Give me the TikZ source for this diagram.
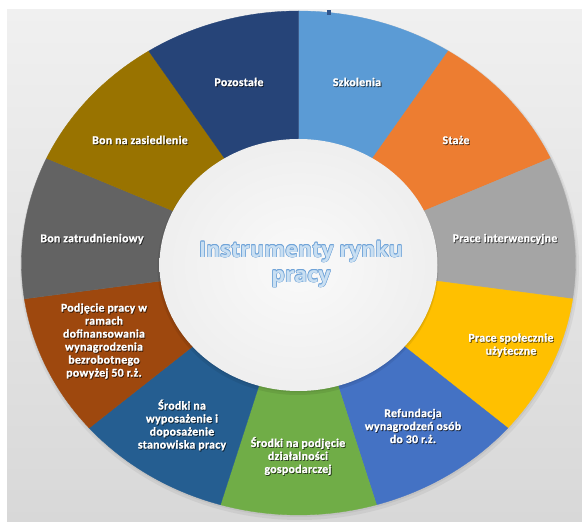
\documentclass[tikz,border=0pt]{standalone}
\usepackage{fontspec}
\setmainfont{Open Sans}
\newfontfamily\labfont{Carlito}[LetterSpace=2.5, BoldFeatures={FakeBold=1.2}]
\usetikzlibrary{calc}
\definecolor{cSzk}{HTML}{5B9BD5}
\definecolor{cSta}{HTML}{ED7D31}
\definecolor{cPin}{HTML}{A5A5A5}
\definecolor{cPsu}{HTML}{FFC000}
\definecolor{cRef}{HTML}{4472C4}
\definecolor{cSpd}{HTML}{70AD47}
\definecolor{cSwy}{HTML}{255E91}
\definecolor{cPod}{HTML}{9E480E}
\definecolor{cBzt}{HTML}{636363}
\definecolor{cBza}{HTML}{997300}
\definecolor{cPoz}{HTML}{264478}
\definecolor{bgTop}{HTML}{F0F0F0}
\definecolor{bgBot}{HTML}{D8D8D8}
\definecolor{titleFill}{HTML}{C9DFF2}
\definecolor{titleLine}{HTML}{6FA3D8}
\tikzset{
  seglabel/.style={text=white, font=\labfont\bfseries\fontsize{11.8}{13}\selectfont, align=center, inner sep=0pt},
  segshadow/.style={seglabel, text=black, opacity=0.6},
  titletext/.style={font=\bfseries\fontsize{21.5}{25}\selectfont, align=center, inner sep=0pt},
}
\newcommand\mylabel[3]{%
  \node[segshadow] (#1s) at ($(#2)+(0.8,-0.9)$) {#3};
  \node[seglabel] (#1) at (#2) {#3};
}
\begin{document}
\begin{tikzpicture}[x=1pt,y=1pt]
\useasboundingbox (0,0) rectangle (582,522);
\fill[white] (0,0) rectangle (582,522);
\shade[top color=bgTop, bottom color=bgBot] (7,0) rectangle (582,512);
% donut shadow
\fill[black, opacity=0.05] (299.5,256.5) ellipse[x radius=279.5, y radius=254.5];
\fill[black, opacity=0.05] (299,258) ellipse[x radius=278, y radius=253];
% wedges
\foreach \c [count=\i from 0] in {cSzk,cSta,cPin,cPsu,cRef,cSpd,cSwy,cPod,cBzt,cBza,cPoz}{
  \pgfmathsetmacro\aA{90-32.72727*\i}
  \pgfmathsetmacro\aB{90-32.72727*(\i+1)}
  \fill[\c, draw=\c, line width=0.3pt, shift={(298.5,259)}] (0,0) -- (\aA:277 and 252)
     arc[start angle=\aA, end angle=\aB, x radius=277, y radius=252] -- cycle;
}
% inner disk with shadow
\fill[black, opacity=0.07] (298,254.5) ellipse[x radius=140.5, y radius=127.5];
\fill[black, opacity=0.06] (298.5,256) ellipse[x radius=139.5, y radius=126.5];
\shade[inner color=white!96!gray, outer color=white!87!gray] (298.5,257) ellipse[x radius=139, y radius=126];
% small mark at top
\fill[cPoz!80!cSzk] (327,507) rectangle (331,512);
% title (outlined)
\foreach \dx/\dy [count=\k] in {0.6/0,-0.6/0,0/0.6,0/-0.6,0.42/0.42,-0.42/0.42,0.42/-0.42,-0.42/-0.42}{
  \node[titletext, text=titleLine] (tout\k) at (301+\dx,258+\dy) {Instrumenty rynku\\pracy};
}
\node[titletext, text=titleFill] (title) at (301,258) {Instrumenty rynku\\pracy};
% labels
\mylabel{poz}{239,440}{Pozostałe}
\mylabel{szk}{357,440}{Szkolenia}
\mylabel{sta}{456,382}{Staże}
\mylabel{bza}{140,382}{Bon na zasiedlenie}
\mylabel{bzt}{92,283}{Bon zatrudnieniowy}
\mylabel{pin}{505,283}{Prace interwencyjne}
\mylabel{psu}{511,177}{Prace społecznie\\użyteczne}
\mylabel{pod}{104,181}{Podjęcie pracy w\\ramach\\dofinansowania\\wynagrodzenia\\bezrobotnego\\powyżej 50 r.ż.}
\mylabel{swy}{182,97}{Środki na\\wyposażenie i\\doposażenie\\stanowiska pracy}
\mylabel{spd}{298,66}{Środki na podjęcie\\działalności\\gospodarczej}
\mylabel{ref}{413,96}{Refundacja\\wynagrodzeń osób\\do 30 r.ż.}
\end{tikzpicture}
\end{document}
